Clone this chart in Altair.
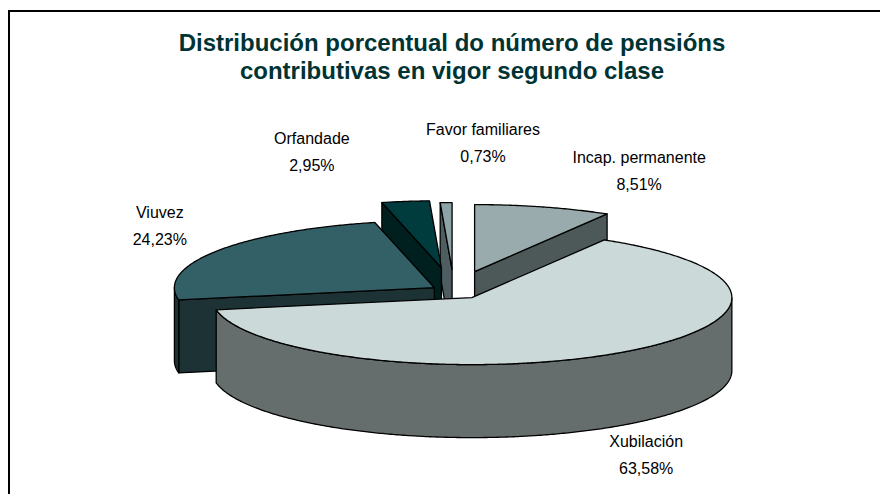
import altair as alt
import numpy as np
import pandas as pd

# ---- data ----
categories = ["Incap. permanente", "Xubilación", "Viuvez", "Orfandade", "Favor familiares"]
values = [8.51, 63.58, 24.23, 2.95, 0.73]
title_lines = ["Distribución porcentual do número de pensións",
               "contributivas en vigor segundo clase"]

# ---- style / layout ----
TOP = ["#99ABAC", "#CCD9D9", "#336066", "#003B3D", "#8DA3A5"]
SIDE = ["#4D5859", "#666E6D", "#1C3235", "#00201F", "#4E5E60"]
EXPLODE = [0.30, 0.12, 0.09, 0.35, 0.32]
LABEL_ANGLE = [38.5, 149.0, 293.2, 332.2, 5.8]
LABEL_DIST = [1.144, 1.435, 1.231, 1.172, 1.103]
PAINT_ORDER = [0, 4, 3, 2, 1]
CX, CY, RX, RY, DEPTH = 454.0, 291.0, 260.0, 67.0, 73.0
W, H = 880, 494

total = sum(values)
ends = np.cumsum(values) / total * 360.0
starts = ends - np.array(values) / total * 360.0


def pt(tx, ty, deg, dy=0.0):
    r = np.radians(deg)
    return (tx + RX * np.sin(r), ty - RY * np.cos(r) + dy)


def arc(tx, ty, a, b, dy=0.0):
    n = max(2, int(np.ceil(abs(b - a) / 0.5)) + 1)
    return [pt(tx, ty, d, dy) for d in np.linspace(a, b, n)]


rows = []
polys = []


def add_poly(pts, color):
    pid = f"p{len(polys):02d}"
    pts = list(pts) + [pts[0]]
    for i, (x, y) in enumerate(pts):
        rows.append({"pid": pid, "i": i, "x": float(x), "y": float(y)})
    polys.append((pid, color))


for k in PAINT_ORDER:
    a0, a1 = starts[k], ends[k]
    mid = (a0 + a1) / 2.0
    e = EXPLODE[k]
    r = np.radians(mid)
    tx = CX + e * RX * np.sin(r)
    ty = CY - e * RY * np.cos(r)
    # radial side faces facing the viewer
    if np.sin(np.radians(a0)) < -1e-6:
        p = pt(tx, ty, a0)
        add_poly([(tx, ty), p, (p[0], p[1] + DEPTH), (tx, ty + DEPTH)], SIDE[k])
    if np.sin(np.radians(a1)) > 1e-6:
        p = pt(tx, ty, a1)
        add_poly([(tx, ty), p, (p[0], p[1] + DEPTH), (tx, ty + DEPTH)], SIDE[k])
    # outer wall (front half)
    lo, hi = max(a0, 90.0), min(a1, 270.0)
    if hi > lo:
        add_poly(arc(tx, ty, lo, hi) + arc(tx, ty, hi, lo, DEPTH), SIDE[k])
    # top face
    add_poly([(tx, ty)] + arc(tx, ty, a0, a1), TOP[k])

poly_df = pd.DataFrame(rows)

xs = alt.Scale(domain=[0, W], nice=False, zero=False)
ys = alt.Scale(domain=[H, 0], nice=False, zero=False)

layers = []
frame = alt.Chart(pd.DataFrame({"f": [0]})).mark_rect(
    filled=False, stroke="black", strokeWidth=2, clip=True
).encode(x=alt.value(9), x2=alt.value(3000), y=alt.value(11), y2=alt.value(3000))
layers.append(frame)

base = alt.Chart(poly_df)
for pid, color in polys:
    layers.append(
        base.transform_filter(alt.datum.pid == pid)
        .mark_line(filled=True, fill=color, stroke="black", strokeWidth=1.3, strokeJoin="round")
        .encode(
            x=alt.X("x:Q", scale=xs, axis=None),
            y=alt.Y("y:Q", scale=ys, axis=None),
            order=alt.Order("i:Q"),
        )
    )

lab = []
for k, c in enumerate(categories):
    a = np.radians(LABEL_ANGLE[k])
    lab.append({
        "x": CX + LABEL_DIST[k] * RX * np.sin(a),
        "y": CY - LABEL_DIST[k] * 2 * RY * np.cos(a),
        "t": c + "\n" + f"{values[k]:.2f}".replace(".", ",") + "%",
    })
lab_df = pd.DataFrame(lab)
layers.append(
    alt.Chart(lab_df).mark_text(
        font="Liberation Sans", fontSize=16, lineHeight=27, lineBreak="\n",
        align="center", baseline="middle", color="black", dy=-13.5
    ).encode(x=alt.X("x:Q", scale=xs, axis=None), y=alt.Y("y:Q", scale=ys, axis=None), text="t:N")
)

chart = alt.layer(*layers).properties(
    width=W, height=H,
    autosize=alt.AutoSizeParams(type="none"),
    padding=0,
    title=alt.Title(
        text=title_lines, anchor="middle", font="Liberation Sans", fontSize=24,
        fontWeight="bold", color="#003333", lineHeight=28, baseline="top", offset=0, dy=84,
        dx=12,
    ),
    background="white",
).configure_view(stroke="transparent")

chart.save("out.html", embed_options={"renderer": "svg", "actions": False})
